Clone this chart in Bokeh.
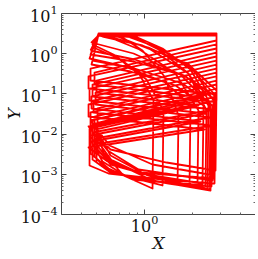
from bokeh.plotting import figure
from bokeh.models import LogAxis, FixedTicker, Range1d
from bokeh.embed import file_html
from bokeh.resources import INLINE

# trajectory (X, Y)
x = [
    0.4571, 0.5132, 2.841, 2.841, 0.4571, 0.4571, 2.4930, 0.4571, 0.6020, 1.123, 2.760, 2.800, 1.9205, 1.0598,
    0.6285, 0.5132, 2.841, 2.841, 0.4843, 0.4843, 2.3186, 0.4843, 0.5518, 0.7375, 1.123, 1.139, 0.9167, 0.6380,
    0.4705, 0.5132, 2.841, 2.841, 0.4440, 0.4440, 2.6421, 0.4440, 0.5848, 0.9167, 2.681, 2.720, 2.0057, 1.2074,
    0.7815, 0.5132, 2.841, 2.841, 0.4986, 0.4986, 2.1882, 0.4986, 0.6107, 1.0445, 1.920, 1.949, 1.3560, 0.7483,
    0.4505, 0.5132, 2.841, 2.841, 0.4705, 0.4705, 2.7199, 0.4705, 0.6107, 1.3758, 2.800, 2.841, 1.8654, 0.9714,
    0.5439, 0.5132, 2.841, 2.841, 0.4505, 0.4505, 2.4217, 0.4505, 0.5764, 0.9436, 2.319, 2.353, 1.5675, 0.8163,
    0.4637, 0.5132, 2.841, 2.841, 0.4914, 0.4914, 2.5665, 0.4914, 0.6285, 1.123, 2.604, 2.642, 1.8927, 1.0908,
    0.6760, 0.5132, 2.841, 2.841, 0.4637, 0.4637, 2.2524, 0.4637, 0.5439, 0.7702, 1.298, 1.317, 1.0294, 0.6859,
    0.4774, 0.5132, 2.841, 2.841, 0.4774, 0.4774, 2.6807, 0.4774, 0.6107, 1.3364, 2.493, 2.530, 1.9486, 1.2984,
    0.9035, 0.5132, 2.841, 2.841, 0.4440, 0.4440, 2.3869, 0.4440, 0.5848, 0.9436, 2.720, 2.760, 1.7603, 0.8526,
    0.4571, 0.5132, 2.841, 2.841, 0.5058, 0.5058, 0.6285, 1.123, 2.157, 2.188, 1.5675, 0.9301,
    0.5848, 0.5132, 2.841, 2.841, 0.4571, 0.4571, 0.5933, 0.8403, 2.642, 2.681, 1.7354, 0.8650,
    0.4705, 0.5132, 2.841, 2.841, 0.4843, 0.4843, 0.5764, 0.8906, 1.614, 1.6375, 1.3364, 0.9714,
    0.7269, 0.5132, 2.841, 2.841, 0.4705, 0.4705, 0.6107, 1.4162, 2.5665, 2.604, 1.6854, 0.8526,
    0.4637, 0.5132, 2.841, 2.841, 0.4986, 0.4986, 0.6285, 1.0146, 2.422, 2.457, 1.8927, 1.2251,
    0.8403, 0.5132, 2.841, 2.841, 0.4505, 0.4505, 0.5933, 1.2984, 2.760, 2.800, 1.7860, 0.8650,
    0.4571,
]
y = [
    1.2012, 3.003, 3.003, 2.130, 0.4283, 0.2154, 0.10232, 0.0218, 0.005205, 0.001752, 0.000934, 0.09125, 0.4804, 1.4264,
    2.5293, 3.180, 3.180, 1.694, 0.3406, 0.1713, 0.08137, 0.01835, 0.003485, 0.000934, 0.000443, 0.06852, 0.3406, 0.9552,
    1.6940, 2.836, 2.836, 1.347, 0.2710, 0.1362, 0.06470, 0.01546, 0.003909, 0.001316, 0.000701, 0.06852, 0.4283, 1.4264,
    2.6783, 3.003, 3.003, 1.071, 0.2154, 0.1083, 0.05145, 0.01302, 0.002935, 0.000934, 0.000497, 0.05145, 0.1921, 0.4804,
    0.7596, 3.180, 3.180, 0.8517, 0.1713, 0.08617, 0.04093, 0.01096, 0.004139, 0.001965, 0.001243, 0.1215, 0.5705, 1.5995,
    2.6783, 2.836, 2.836, 0.6771, 0.1362, 0.06852, 0.03254, 0.009228, 0.002618, 0.001047, 0.000590, 0.05145, 0.1618, 0.3608,
    0.5385, 3.003, 3.003, 0.5385, 0.1083, 0.05450, 0.02588, 0.007772, 0.002081, 0.000701, 0.000395, 0.03865, 0.3217, 1.2720,
    2.6783, 3.180, 3.180, 0.4283, 0.08617, 0.04334, 0.02058, 0.006544, 0.002081, 0.000882, 0.000527, 0.03865, 0.2281, 0.7596,
    1.4264, 2.836, 2.836, 0.3406, 0.06852, 0.03446, 0.01637, 0.005510, 0.001752, 0.000742, 0.000443, 0.06852, 0.4045, 1.3469,
    2.5293, 3.003, 3.003, 0.2710, 0.05450, 0.02740, 0.01302, 0.004642, 0.002081, 0.001109, 0.000786, 0.09125, 0.2869, 0.6397,
    0.9552, 3.180, 3.180, 0.2154, 0.04334, 0.003909, 0.001752, 0.000882, 0.000625, 0.03865, 0.3217, 1.2720,
    2.6783, 2.836, 2.836, 0.1713, 0.03446, 0.003291, 0.001394, 0.000742, 0.000497, 0.05145, 0.1814, 0.4283,
    0.6771, 3.003, 3.003, 0.1362, 0.02740, 0.002772, 0.001316, 0.000786, 0.000558, 0.02902, 0.2710, 1.2012,
    2.5293, 3.180, 3.180, 0.1083, 0.02180, 0.002334, 0.001109, 0.000590, 0.000419, 0.05145, 0.3038, 1.0115,
    1.8994, 2.836, 2.836, 0.08617, 0.01733, 0.001965, 0.001109, 0.000701, 0.000527, 0.03865, 0.3217, 1.2720,
    2.6783, 3.003, 3.003, 0.06852, 0.01378, 0.001655, 0.001047, 0.000742, 0.000590, 0.06852, 0.2869, 0.7173,
    1.2012,
]

x_major_ticks = [1.0]
x_minor_ticks = [0.3, 0.4, 0.5, 0.6, 0.7, 0.8, 0.9, 2.0, 3.0, 4.0]
y_major_ticks = [1e-4, 1e-3, 1e-2, 1e-1, 1.0, 10.0]
y_minor_mantissas = [2, 3, 4, 5, 6, 7, 8, 9]
y_minor_ticks = [m * d for d in y_major_ticks[:-1] for m in y_minor_mantissas]

p = figure(frame_width=194, frame_height=201, x_axis_type="log", y_axis_type="log",
           x_range=Range1d(0.3, 5.0), y_range=Range1d(1e-4, 10.0),
           output_backend="svg", toolbar_location=None,
           min_border_left=59, min_border_right=0, min_border_top=13,
           min_border_bottom=0)
p.outline_line_color = None
p.xgrid.visible = False
p.ygrid.visible = False
p.background_fill_color = "white"
p.border_fill_color = "white"

p.line(x, y, line_color="#ff0000", line_width=1.8, line_join="round")

top = LogAxis()
right = LogAxis()
p.add_layout(top, "above")
p.add_layout(right, "right")

bottom = p.below[0]
left = p.left[0]

xt = FixedTicker(ticks=x_major_ticks, minor_ticks=x_minor_ticks)
yt = FixedTicker(ticks=y_major_ticks, minor_ticks=y_minor_ticks)
bottom.ticker = xt
top.ticker = xt
left.ticker = yt
right.ticker = yt

for ax in (bottom, top, left, right):
    ax.major_tick_in = 5
    ax.major_tick_out = 0
    ax.minor_tick_in = 2
    ax.minor_tick_out = 0
    ax.axis_line_color = "#444444"
    ax.major_tick_line_color = "#444444"
    ax.minor_tick_line_color = "#666666"
    ax.major_label_text_font = "DejaVu Serif"
    ax.major_label_text_font_size = "16px"
    ax.major_label_text_color = "#111111"
    ax.major_label_standoff = 5

top.major_label_overrides = {t: "" for t in x_major_ticks}
right.major_label_overrides = {t: "" for t in y_major_ticks}
for ax in (top, right):
    ax.major_label_text_font_size = "1px"
    ax.major_label_standoff = 0

bottom.major_label_standoff = 0
left.major_label_standoff = 4
bottom.axis_label = "X"
left.axis_label = "Y"
for ax in (bottom, left):
    ax.axis_label_text_font = "DejaVu Serif"
    ax.axis_label_text_font_style = "italic"
    ax.axis_label_text_font_size = "17px"
    ax.axis_label_text_color = "#111111"
bottom.axis_label_standoff = -2
left.axis_label_standoff = -6

open("out.html", "w").write(file_html(p, INLINE))
